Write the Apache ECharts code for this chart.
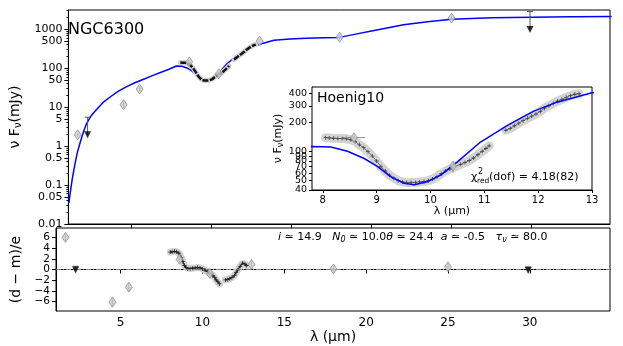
<!DOCTYPE html>
<html>
<head>
<meta charset="utf-8">
<script src="https://cdn.jsdelivr.net/npm/echarts@6/dist/echarts.min.js"></script>
<style>html,body{margin:0;padding:0;background:#fff}#main{width:623px;height:346px}</style>
</head>
<body>
<div id="main"></div>
<script>
var FONT = 'DejaVu Sans';

// model SED (blue), lambda [um] vs nuFnu [mJy]
var modelLam = [1.08, 1.2, 1.3, 1.45, 1.6, 1.75, 1.9, 2.05, 2.2, 2.45, 2.7, 3.2, 3.7, 4.2, 4.7, 5.2, 5.75, 6.3, 6.8, 7.3, 7.8, 8.15, 8.46, 8.77, 9.02, 9.26, 9.51, 9.7, 9.94, 10.19, 10.5, 10.93, 11.43, 11.92, 12.35, 13.0, 13.9, 14.9, 15.9, 17.0, 18.0, 19.0, 20.0, 22.0, 23.5, 25.0, 27.5, 30.0, 32.5, 35.0];
var modelFlux = [0.035, 0.08, 0.15, 0.33, 0.66, 1.1, 1.77, 2.7, 3.9, 5.8, 7.7, 13, 18.7, 26, 33.6, 42, 52, 64, 77, 92, 113, 112, 101, 85, 70, 55, 47, 45.4, 48.7, 57, 78.5, 126, 188, 264, 327, 409, 520, 560, 580, 600, 615, 745, 900, 1290, 1550, 1800, 1950, 2030, 2070, 2100];

// mid-IR spectrum (Hoenig10), null = gap
var specLam = [8.05, 8.12, 8.2, 8.28, 8.36, 8.44, 8.52, 8.6, 8.68, 8.76, 8.84, 8.92, 9.0, 9.08, 9.16, 9.24, 9.32, 9.4, 9.48, 9.56, 9.64, 9.72, 9.8, 9.88, 9.96, 10.04, 10.12, 10.2, 10.28, 10.36, 10.56, 10.64, 10.72, 10.8, 10.88, 10.96, 11.03, 11.09, null, 11.4, 11.48, 11.56, 11.64, 11.72, 11.8, 11.88, 11.96, 12.04, 12.12, 12.2, 12.28, 12.36, 12.44, 12.52, 12.6, 12.68, 12.76];
var specFlux = [140, 139, 138, 137, 137, 136, 133, 128, 118, 110, 100, 90, 80, 70, 63, 57, 53, 50, 48.5, 48, 48, 48, 48.5, 49, 50, 52, 55, 59, 63, 66, 74, 77, 81, 86, 93, 101, 108, 115, null, 167, 175, 186, 198, 210, 222, 234, 246, 262, 283, 300, 318, 335, 350, 367, 382, 395, 400];

// photometry (diamonds) with error bars
var photLam = [1.63, 4.5, 5.5, 8.6, 10.45, 13.0, 18.0, 25.0];
var photFlux = [1.95, 11.5, 29, 145, 71, 495, 620, 1920];
var photLo = [1.8, 9.5, 25, 135, 62, 470, 560, 1700];
var photHi = [2.1, 14, 34, 155, 80, 520, 690, 2200];

// upper limits: lambda, cap value, arrow tip value
var ulLam = [2.25, 29.9];
var ulCap = [5.5, 2830];
var ulTip = [1.95, 980];

// inset photometry
var insLam = [8.58, 10.42];
var insFlux = [140, 71];
var insXLo = [8.37, 10.4];
var insXHi = [8.78, 10.44];
var insLo = [132, 61];
var insHi = [148, 79];

// residuals (d-m)/e
var resSpecLam = [8.03, 8.15, 8.29, 8.42, 8.56, 8.7, 8.8, 8.9, 9.0, 9.1, 9.25, 9.4, 9.55, 9.7, 9.85, 10.0, 10.15, 10.3, 10.45, 10.63, 10.75, 10.83, 10.95, 11.04, null, 11.4, 11.52, 11.65, 11.8, 11.95, 12.05, 12.15, 12.3, 12.46, 12.6, 12.7];
var resSpecVal = [3.25, 3.3, 3.4, 3.3, 3.05, 2.25, 1.5, 0.75, 0.35, 0.1, 0.15, 0.25, 0.3, 0.4, 0.3, 0.1, -0.1, -0.4, -0.7, -1.1, -1.5, -1.95, -2.3, -2.7, null, -1.95, -1.9, -1.75, -1.5, -1.1, -0.6, -0.1, 0.6, 1.2, 1.0, 0.75];
var resLam = [1.63, 4.5, 5.5, 8.6, 10.45, 13.0, 18.0, 25.0];
var resVal = [6.0, -6.1, -3.3, 1.9, -0.75, 0.95, 0.1, 0.5];
var resErr = [0.7, 0.8, 0.8, 0.7, 0.7, 0.7, 0.7, 0.7];
var resUlLam = [2.25, 29.9];
var resUlCap = [0.6, 0.5];
var resUlTip = [-0.1, -0.2];

// ticks (labels split over two axes so none get dropped as overlapping)
var xTicks = [5, 10, 15, 20, 25, 30];
var yTicks = [0.01, 0.05, 0.1, 0.5, 1, 5, 10, 50, 100, 500, 1000];
var resTicks = [-6, -4, -2, 0, 2, 4, 6];
var resLblA = [-6, -2, 2, 6];
var resLblB = [-4, 0, 4];
var insXTicks = [8, 9, 10, 11, 12, 13];
var insYTicks = [40, 50, 60, 70, 80, 90, 100, 200, 300, 400];
var insLblA = [40, 60, 80, 100, 300];
var insLblB = [50, 70, 90, 200, 400];
var yMinor = [];
[0.01, 0.1, 1, 10, 100, 1000].forEach(function (d) {
  [2, 3, 4, 6, 7, 8, 9].forEach(function (m) { if (d * m < 3100) yMinor.push(+(d * m).toPrecision(3)); });
});

function pairs(xs, ys) {
  return xs.map(function (x, i) { return (x === null || ys[i] === null) ? ['-', '-'] : [x, ys[i]]; });
}

var cross = 'path://M4,0H6V4H10V6H6V10H4V6H0V4H4Z';

function errBars(xs, ys, xlo, xhi, ylo, yhi) {
  return xs.map(function (x, i) {
    return [x, ys[i], xlo ? xlo[i] : x, xhi ? xhi[i] : x, ylo ? ylo[i] : ys[i], yhi ? yhi[i] : ys[i]];
  });
}
function renderErr(params, api) {
  var c = [];
  var a = api.coord([api.value(0), api.value(4)]), b = api.coord([api.value(0), api.value(5)]);
  var l = api.coord([api.value(2), api.value(1)]), r = api.coord([api.value(3), api.value(1)]);
  var st = { stroke: '#8c8c8c', lineWidth: 1 };
  if (Math.abs(a[1] - b[1]) > 0.5) c.push({ type: 'line', shape: { x1: a[0], y1: a[1], x2: b[0], y2: b[1] }, style: st });
  if (Math.abs(l[0] - r[0]) > 0.5) c.push({ type: 'line', shape: { x1: l[0], y1: l[1], x2: r[0], y2: r[1] }, style: st });
  return { type: 'group', children: c };
}
function renderUl(params, api) {
  var top = api.coord([api.value(0), api.value(1)]), tip = api.coord([api.value(0), api.value(2)]);
  return { type: 'group', children: [
    { type: 'line', shape: { x1: top[0], y1: top[1], x2: tip[0], y2: tip[1] }, style: { stroke: '#555', lineWidth: 1 } },
    { type: 'line', shape: { x1: top[0] - 3, y1: top[1], x2: top[0] + 3, y2: top[1] }, style: { stroke: '#555', lineWidth: 1 } }
  ] };
}

var tickLbl = { fontFamily: FONT, color: '#000', hideOverlap: false, showMinLabel: true, showMaxLabel: true };
var axLine = { show: true, lineStyle: { color: '#000', width: 1 } };
var nuF = {
  a: { fontFamily: FONT, fontSize: 14, color: '#000' },
  s: { fontFamily: FONT, fontSize: 10, color: '#000', padding: [7, 0, 0, 0] }
};
var nuFs = {
  a: { fontFamily: FONT, fontSize: 11, color: '#000' },
  s: { fontFamily: FONT, fontSize: 8, color: '#000', padding: [5, 0, 0, 0] }
};
function minus(v) { return v < 0 ? '\u2212' + Math.abs(v) : String(v); }

var chart = echarts.init(document.getElementById('main'), null, { renderer: 'canvas' });
var option = {
  animation: false,
  backgroundColor: '#fff',
  grid: [
    { left: 56, top: 10, width: 554, height: 214, show: true, borderColor: '#000', borderWidth: 1, backgroundColor: 'transparent' },
    { left: 56, top: 228, width: 554, height: 83, show: true, borderColor: '#000', borderWidth: 1, backgroundColor: 'transparent' },
    { left: 312, top: 87, width: 280, height: 103, show: true, borderColor: '#000', borderWidth: 1, backgroundColor: '#fff', z: 5 }
  ],
  xAxis: [
    { gridIndex: 0, type: 'value', min: 1.05, max: 34.9, axisLine: axLine, splitLine: { show: false },
      axisTick: { customValues: xTicks, length: 4, lineStyle: { color: '#000' } }, axisLabel: { show: false } },
    { gridIndex: 1, type: 'value', min: 1.05, max: 34.9, axisLine: axLine, splitLine: { show: false },
      axisTick: { customValues: xTicks, length: 4, lineStyle: { color: '#000' } },
      axisLabel: Object.assign({ customValues: xTicks, fontSize: 12, margin: 6 }, tickLbl),
      name: 'λ (μm)', nameLocation: 'middle', nameGap: 19, nameTextStyle: { fontFamily: FONT, fontSize: 14, color: '#000' } },
    { gridIndex: 2, type: 'value', min: 7.8, max: 13, axisLine: axLine, splitLine: { show: false },
      axisTick: { customValues: insXTicks, length: 3, lineStyle: { color: '#000' } },
      axisLabel: Object.assign({ customValues: insXTicks, fontSize: 10, margin: 5 }, tickLbl),
      name: 'λ (μm)', nameLocation: 'middle', nameGap: 15, nameTextStyle: { fontFamily: FONT, fontSize: 11, color: '#000' } }
  ],
  yAxis: [
    { gridIndex: 0, type: 'log', logBase: 10, min: 0.01, max: 3100, position: 'left', axisLine: axLine, splitLine: { show: false },
      axisTick: { customValues: yTicks, length: 4, lineStyle: { color: '#000' } },
      axisLabel: Object.assign({ customValues: yTicks, fontSize: 11, margin: 6, formatter: function (v) { return String(+v.toPrecision(3)); } }, tickLbl),
      name: '{a|ν F}{s|ν}{a|(mJy)}', nameLocation: 'middle', nameGap: 37, nameTextStyle: { rich: nuF } },
    { gridIndex: 0, type: 'log', logBase: 10, min: 0.01, max: 3100, position: 'left', offset: 0, axisLine: { show: false }, splitLine: { show: false },
      axisTick: { customValues: yMinor, length: 2, lineStyle: { color: '#000' } }, axisLabel: { show: false } },
    { gridIndex: 1, type: 'value', min: -7.75, max: 7.75, position: 'left', axisLine: axLine, splitLine: { show: false },
      axisTick: { customValues: resTicks, length: 4, lineStyle: { color: '#000' } },
      axisLabel: Object.assign({ customValues: resLblA, fontSize: 10.5, margin: 6, lineHeight: 9, formatter: minus }, tickLbl),
      name: '(d \u2212 m)/e', nameLocation: 'middle', nameGap: 26, nameTextStyle: { fontFamily: FONT, fontSize: 14, color: '#000' } },
    { gridIndex: 2, type: 'log', logBase: 10, min: 40, max: 470, position: 'left', axisLine: axLine, splitLine: { show: false },
      axisTick: { customValues: insYTicks, length: 3, lineStyle: { color: '#000' } },
      axisLabel: Object.assign({ customValues: insLblA, fontSize: 9.5, margin: 5, lineHeight: 8 }, tickLbl),
      name: '{a|ν F}{s|ν}{a|(mJy)}', nameLocation: 'middle', nameGap: 24, nameTextStyle: { rich: nuFs } },
    { gridIndex: 1, type: 'value', min: -7.75, max: 7.75, position: 'left', offset: 0, axisLine: { show: false }, splitLine: { show: false },
      axisTick: { show: false },
      axisLabel: Object.assign({ customValues: resLblB, fontSize: 10.5, margin: 6, lineHeight: 9, formatter: minus }, tickLbl) },
    { gridIndex: 2, type: 'log', logBase: 10, min: 40, max: 470, position: 'left', offset: 0, axisLine: { show: false }, splitLine: { show: false },
      axisTick: { show: false },
      axisLabel: Object.assign({ customValues: insLblB, fontSize: 9.5, margin: 5, lineHeight: 8 }, tickLbl) }
  ],
  series: [
    // main panel
    { type: 'line', xAxisIndex: 0, yAxisIndex: 0, data: pairs(modelLam, modelFlux), symbol: 'none', z: 2,
      lineStyle: { color: '#0000ff', width: 1.5 } },
    { type: 'line', xAxisIndex: 0, yAxisIndex: 0, data: pairs(specLam, specFlux), symbol: 'none', z: 3,
      lineStyle: { color: '#cfcfcf', width: 5, cap: 'round' } },
    { type: 'line', xAxisIndex: 0, yAxisIndex: 0, data: pairs(specLam, specFlux), symbol: 'none', z: 3,
      lineStyle: { color: '#111', width: 2.5, type: [6, 1.5] } },
    { type: 'custom', xAxisIndex: 0, yAxisIndex: 0, renderItem: renderErr, z: 4,
      data: errBars(photLam, photFlux, null, null, photLo, photHi), encode: { x: 0, y: 1 } },
    { type: 'scatter', xAxisIndex: 0, yAxisIndex: 0, data: pairs(photLam, photFlux), symbol: 'diamond', symbolSize: [7, 10], z: 5,
      itemStyle: { color: '#c8c8c8', borderColor: '#808080', borderWidth: 0.8 } },
    { type: 'custom', xAxisIndex: 0, yAxisIndex: 0, renderItem: renderUl, z: 4,
      data: ulLam.map(function (x, i) { return [x, ulCap[i], ulTip[i]]; }), encode: { x: 0, y: 1 } },
    { type: 'scatter', xAxisIndex: 0, yAxisIndex: 0, data: pairs(ulLam, ulTip), symbol: 'triangle', symbolRotate: 180, symbolSize: [7, 7], z: 5,
      itemStyle: { color: '#000' } },

    // residual panel
    { type: 'line', xAxisIndex: 1, yAxisIndex: 2, data: pairs(resSpecLam, resSpecVal), symbol: 'none', z: 2,
      lineStyle: { color: '#d0d0d0', width: 7, cap: 'round' } },
    { type: 'line', xAxisIndex: 1, yAxisIndex: 2, data: pairs(resSpecLam, resSpecVal), symbol: cross, symbolSize: 4, z: 3,
      itemStyle: { color: '#222' }, lineStyle: { color: '#222', width: 1.2 } },
    { type: 'custom', xAxisIndex: 1, yAxisIndex: 2, renderItem: renderErr, z: 4,
      data: errBars(resLam, resVal, null, null,
        resVal.map(function (v, i) { return v - resErr[i]; }), resVal.map(function (v, i) { return v + resErr[i]; })),
      encode: { x: 0, y: 1 } },
    { type: 'scatter', xAxisIndex: 1, yAxisIndex: 2, data: pairs(resLam, resVal), symbol: 'diamond', symbolSize: [7, 10], z: 5,
      itemStyle: { color: '#c8c8c8', borderColor: '#808080', borderWidth: 0.8 },
      markLine: { silent: true, symbol: 'none', label: { show: false }, data: [{ yAxis: 0 }],
        lineStyle: { color: '#808080', width: 1, type: [5, 2, 1, 2] } } },
    { type: 'custom', xAxisIndex: 1, yAxisIndex: 2, renderItem: renderUl, z: 4,
      data: resUlLam.map(function (x, i) { return [x, resUlCap[i], resUlTip[i]]; }), encode: { x: 0, y: 1 } },
    { type: 'scatter', xAxisIndex: 1, yAxisIndex: 2, data: pairs(resUlLam, resUlTip), symbol: 'triangle', symbolRotate: 180, symbolSize: [7, 7], z: 5,
      itemStyle: { color: '#000' } },

    // inset
    { type: 'line', xAxisIndex: 2, yAxisIndex: 3, data: pairs(specLam, specFlux), symbol: 'none', z: 6,
      lineStyle: { color: '#d3d3d3', width: 9, cap: 'round' } },
    { type: 'line', xAxisIndex: 2, yAxisIndex: 3, data: pairs(specLam, specFlux), symbol: cross, symbolSize: 4, z: 7,
      itemStyle: { color: '#444' }, lineStyle: { color: '#555', width: 0.8 } },
    { type: 'line', xAxisIndex: 2, yAxisIndex: 3, data: pairs(modelLam, modelFlux), symbol: 'none', z: 8,
      lineStyle: { color: '#0000ff', width: 1.5 } },
    { type: 'custom', xAxisIndex: 2, yAxisIndex: 3, renderItem: renderErr, z: 9,
      data: errBars(insLam, insFlux, insXLo, insXHi, insLo, insHi), encode: { x: 0, y: 1 } },
    { type: 'scatter', xAxisIndex: 2, yAxisIndex: 3, data: pairs(insLam, insFlux), symbol: 'diamond', symbolSize: [7, 10], z: 10,
      itemStyle: { color: '#c8c8c8', borderColor: '#808080', borderWidth: 0.8 } }
  ],
  graphic: [
    { type: 'text', z: 100, style: { x: 68, y: 30, text: 'NGC6300', font: '16px "DejaVu Sans"', fill: '#000', verticalAlign: 'middle' } },
    { type: 'text', z: 100, style: { x: 317, y: 98, text: 'Hoenig10', font: '14px "DejaVu Sans"', fill: '#000', verticalAlign: 'middle' } },
    { type: 'text', z: 100, style: { x: 471, y: 177, text: 'χ', font: '11px "DejaVu Sans"', fill: '#000', verticalAlign: 'middle' } },
    { type: 'text', z: 100, style: { x: 478, y: 172, text: '2', font: '8px "DejaVu Sans"', fill: '#000', verticalAlign: 'middle' } },
    { type: 'text', z: 100, style: { x: 477, y: 181, text: 'red', font: '7.5px "DejaVu Sans"', fill: '#000', verticalAlign: 'middle' } },
    { type: 'text', z: 100, style: { x: 489, y: 177, text: '(dof) = 4.18(82)', font: '11px "DejaVu Sans"', fill: '#000', verticalAlign: 'middle' } },
    { type: 'text', z: 100, style: {
      x: 278, y: 237, verticalAlign: 'middle',
      text: '{it|i}{n| \u2243 14.9   }{it|N}{sub|0}{n| \u2243 10.0}{it|θ}{n| \u2243 24.4  }{it|a}{n| \u2243 -0.5   }{it|τ}{sub|ν}{n| \u2243 80.0}',
      rich: {
        n: { font: '11px "DejaVu Sans"', fill: '#000' },
        it: { font: 'italic 11px "DejaVu Sans"', fill: '#000' },
        sub: { font: 'italic 8px "DejaVu Sans"', fill: '#000', padding: [5, 0, 0, 0] }
      } } }
  ]
};
chart.setOption(option);
</script>
</body>
</html>
